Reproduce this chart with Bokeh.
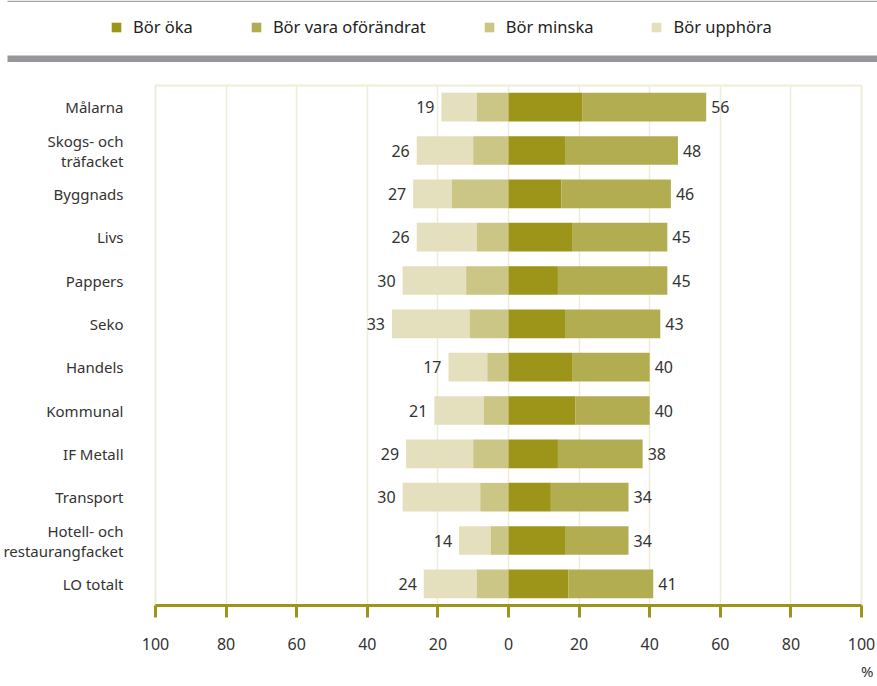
import pandas as pd
from bokeh.plotting import figure
from bokeh.models import (ColumnDataSource, Legend, LegendItem, FactorRange, Range1d,
                          FixedTicker, Title, BoxAnnotation)
from bokeh.embed import file_html
from bokeh.resources import INLINE
from bokeh.core.properties import value

categories = ["Målarna", "Skogs- och\nträfacket", "Byggnads", "Livs", "Pappers", "Seko",
              "Handels", "Kommunal", "IF Metall", "Transport",
              "Hotell- och\nrestaurangfacket", "LO totalt"]
bor_oka = [21, 16, 15, 18, 14, 16, 18, 19, 14, 12, 16, 17]
bor_vara = [35, 32, 31, 27, 31, 27, 22, 21, 24, 22, 18, 24]
bor_minska = [9, 10, 16, 9, 12, 11, 6, 7, 10, 8, 5, 9]
bor_upphora = [10, 16, 11, 17, 18, 22, 11, 14, 19, 22, 9, 15]
x_ticks = [-100, -80, -60, -40, -20, 0, 20, 40, 60, 80, 100]
x_tick_labels = ["100", "80", "60", "40", "20", "0", "20", "40", "60", "80", "100"]
series_names = ["Bör öka", "Bör vara oförändrat", "Bör minska", "Bör upphöra"]
colors = ["#9d941a", "#b3ad52", "#cbc586", "#e4dfbd"]

FONT = "Noto Sans"
TXT = "#333333"
GRID = "#efedda"
OLIVE = "#9d941a"
GRAY = "#97979b"
W = 877
HEADER_H = 62
FRAME_LEFT = 154
FRAME_RIGHT_PAD = 16

df = pd.DataFrame({"cat": categories, "oka": bor_oka, "vara": bor_vara,
                   "minska": bor_minska, "upphora": bor_upphora})
df["oka_l"] = 0
df["oka_r"] = df["oka"]
df["vara_l"] = df["oka"]
df["vara_r"] = df["oka"] + df["vara"]
df["min_l"] = -df["minska"]
df["min_r"] = 0
df["upp_l"] = -(df["minska"] + df["upphora"])
df["upp_r"] = -df["minska"]
df["pos_tot"] = df["oka"] + df["vara"]
df["neg_tot"] = df["minska"] + df["upphora"]
df["neg_x"] = -df["neg_tot"]
df["pos_lab"] = df["pos_tot"].astype(str)
df["neg_lab"] = df["neg_tot"].astype(str)
src = ColumnDataSource(df)

# ---- header: thin top rule, legend, thick gray rule ----
hf = figure(width=W, height=HEADER_H, toolbar_location=None, output_backend="svg",
            min_border=0, x_axis_type=None, y_axis_type=None,
            x_range=Range1d(0, W), y_range=Range1d(0, HEADER_H))
hf.grid.visible = False
hf.outline_line_color = None
hf.add_layout(BoxAnnotation(left=7, right=W, bottom=HEADER_H - 1.5, top=HEADER_H,
                            fill_color="#a3a3a6", fill_alpha=1, line_color=None))
hf.add_layout(BoxAnnotation(left=7, right=W, bottom=0, top=7,
                            fill_color=GRAY, fill_alpha=1, line_color=None))
dummy = ColumnDataSource(dict(y=[-50], l=[-50], r=[-40]))
items = []
for name, c in zip(series_names, colors):
    r = hf.hbar(y="y", left="l", right="r", height=1, source=dummy,
                fill_color=c, line_color=None)
    items.append(LegendItem(label=name, renderers=[r]))
leg = Legend(items=items, orientation="horizontal", location=(110, 24),
             glyph_width=12, glyph_height=12, label_standoff=11, spacing=57,
             padding=0, margin=0, border_line_color=None, background_fill_alpha=0,
             label_text_font=FONT, label_text_font_size="16.5px", label_text_color="#222222")
hf.add_layout(leg, "center")

# ---- main chart ----
p = figure(width=W, height=624, toolbar_location=None, output_backend="svg",
           y_range=FactorRange(factors=list(reversed(categories)), range_padding=0),
           x_range=Range1d(-100, 100),
           min_border_left=FRAME_LEFT, min_border_right=FRAME_RIGHT_PAD,
           min_border_top=23, min_border_bottom=78)

bh = 0.66
p.hbar(y="cat", left="upp_l", right="upp_r", height=bh, source=src, fill_color=colors[3], line_color=None)
p.hbar(y="cat", left="min_l", right="min_r", height=bh, source=src, fill_color=colors[2], line_color=None)
p.hbar(y="cat", left="oka_l", right="oka_r", height=bh, source=src, fill_color=colors[0], line_color=None)
p.hbar(y="cat", left="vara_l", right="vara_r", height=bh, source=src, fill_color=colors[1], line_color=None)

p.text(x="pos_tot", y="cat", text="pos_lab", source=src, x_offset=5,
       text_align="left", text_baseline="middle", text_font=value(FONT),
       text_font_size="16px", text_color=TXT)
p.text(x="neg_x", y="cat", text="neg_lab", source=src, x_offset=-7,
       text_align="right", text_baseline="middle", text_font=value(FONT),
       text_font_size="16px", text_color=TXT)

p.outline_line_color = GRID
p.outline_line_width = 2
p.ygrid.visible = False
p.xgrid.ticker = FixedTicker(ticks=x_ticks)
p.xgrid.grid_line_color = GRID
p.xgrid.grid_line_width = 1.5

xa = p.xaxis[0]
xa.ticker = FixedTicker(ticks=x_ticks)
xa.major_label_overrides = {t: l for t, l in zip(x_ticks, x_tick_labels)}
xa.axis_line_color = OLIVE
xa.axis_line_width = 3
xa.major_tick_line_color = OLIVE
xa.major_tick_line_width = 3
xa.major_tick_in = 0
xa.major_tick_out = 12
xa.minor_tick_line_color = None
xa.major_label_standoff = 20
xa.major_label_text_font = FONT
xa.major_label_text_font_size = "16px"
xa.major_label_text_color = TXT

ya = p.yaxis[0]
ya.axis_line_color = None
ya.major_tick_line_color = None
ya.minor_tick_line_color = None
ya.major_label_standoff = 26
ya.major_label_text_font = FONT
ya.major_label_text_font_size = "15px"
ya.major_label_text_line_height = 1.0
ya.major_label_text_color = TXT

p.add_layout(Title(text="%", align="right", offset=-12, standoff=12, text_font=FONT,
                   text_font_size="15px", text_font_style="normal",
                   text_color=TXT), "below")

open("out.html", "w").write(file_html([hf, p], INLINE))
